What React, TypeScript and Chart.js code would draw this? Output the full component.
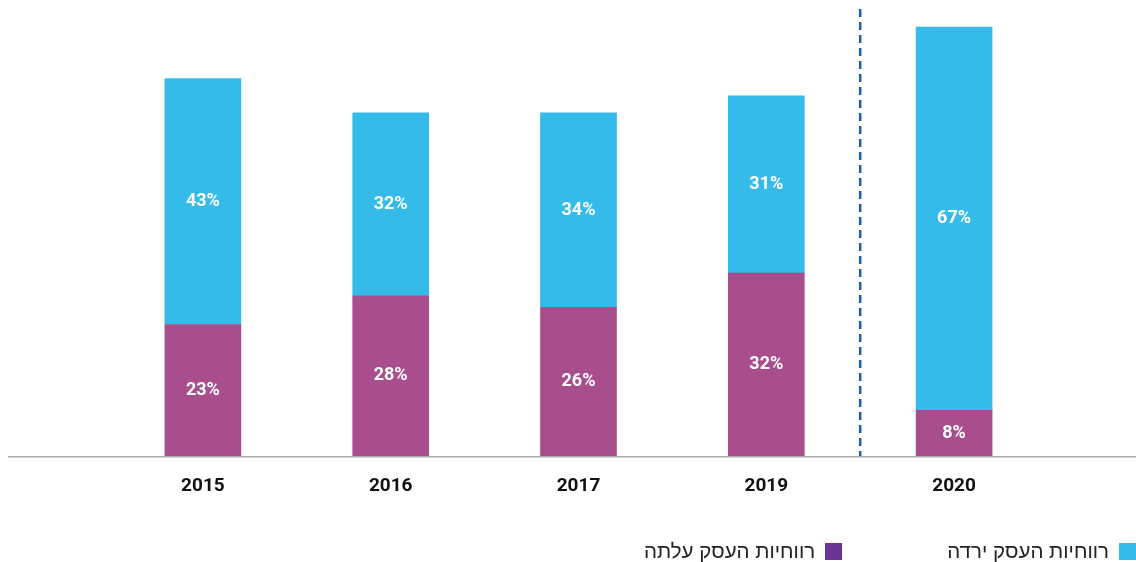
import React, { useEffect, useRef } from "react";
import { Chart, registerables } from "chart.js";

Chart.register(...registerables);

const years = ["2015", "2016", "2017", "2019", "2020"];
const rose = [23, 28, 26, 32, 8];
const fell = [43, 32, 34, 31, 67];
const roseLabel = "רווחיות העסק עלתה";
const fellLabel = "רווחיות העסק ירדה";

const CYAN = "#35BBEA";
const PURPLE = "#A84E8C";
const LEGEND_PURPLE = "#6B3494";

const extrasPlugin = {
  id: "extras",
  afterDatasetsDraw(chart: any) {
    const { ctx, chartArea } = chart;
    const xs = chart.scales.x;
    const ys = chart.scales.y;
    ctx.save();
    // axis line
    ctx.strokeStyle = "#ababab";
    ctx.lineWidth = 1.5;
    ctx.beginPath();
    ctx.moveTo(8, chartArea.bottom + 0.75);
    ctx.lineTo(chart.width, chartArea.bottom + 0.75);
    ctx.stroke();
    // dashed separator between 2019 and 2020
    const xa = xs.getPixelForValue(3);
    const xb = xs.getPixelForValue(4);
    const xm = (xa + xb) / 2;
    ctx.strokeStyle = "#1F5FA8";
    ctx.lineWidth = 2.5;
    ctx.setLineDash([8, 5]);
    ctx.beginPath();
    ctx.moveTo(xm, chartArea.top - 1);
    ctx.lineTo(xm, chartArea.bottom);
    ctx.stroke();
    ctx.setLineDash([]);
    // value labels
    ctx.fillStyle = "#ffffff";
    ctx.font = "bold 18px Roboto";
    ctx.textAlign = "center";
    ctx.textBaseline = "middle";
    chart.data.datasets.forEach((ds: any, di: number) => {
      const meta = chart.getDatasetMeta(di);
      meta.data.forEach((bar: any, i: number) => {
        const yc = (bar.y + bar.base) / 2;
        ctx.fillText(ds.data[i] + "%", bar.x, yc);
      });
    });
    ctx.restore();
  },
};

export default function App() {
  const ref = useRef<HTMLCanvasElement>(null);
  useEffect(() => {
    if (!ref.current) return;
    const chart = new Chart(ref.current, {
      type: "bar",
      data: {
        labels: years,
        datasets: [
          { label: roseLabel, data: rose, backgroundColor: PURPLE, barThickness: 76 },
          { label: fellLabel, data: fell, backgroundColor: CYAN, barThickness: 76 },
        ],
      },
      options: {
        animation: false,
        responsive: true,
        maintainAspectRatio: false,
        layout: { padding: { left: 109, right: 88, top: 10, bottom: 0 } },
        plugins: { legend: { display: false }, tooltip: { enabled: false } },
        scales: {
          x: {
            stacked: true,
            grid: { display: false, drawTicks: false },
            border: { display: false },
            ticks: {
              color: "#111",
              font: { family: "Roboto", size: 19, weight: "bold" },
              padding: 19,
            },
            afterFit: (s: any) => {
              s.height = 106;
            },
          },
          y: {
            stacked: true,
            display: false,
            min: 0,
            max: 78,
          },
        },
      },
      plugins: [extrasPlugin],
    });
    return () => chart.destroy();
  }, []);

  const item = (color: string, text: string) => (
    <div style={{ display: "flex", alignItems: "center", direction: "rtl" }}>
      <span style={{ width: 17, height: 17, background: color, marginLeft: 10, display: "inline-block" }} />
      <span style={{ fontFamily: "'Liberation Sans', Arial, sans-serif", fontSize: 20.5, color: "#222", whiteSpace: "nowrap" }}>{text}</span>
    </div>
  );

  return (
    <div style={{ position: "fixed", left: 0, top: 0, width: 1136, height: 562, background: "#fff", overflow: "hidden" }}>
      <canvas ref={ref} style={{ position: "absolute", left: 0, top: 0, width: 1136, height: 562 }} />
      <div
        style={{
          position: "absolute",
          right: 0,
          top: 540,
          display: "flex",
          direction: "rtl",
          gap: 105,
          lineHeight: "22px",
        }}
      >
        {item(CYAN, fellLabel)}
        {item(LEGEND_PURPLE, roseLabel)}
      </div>
    </div>
  );
}
